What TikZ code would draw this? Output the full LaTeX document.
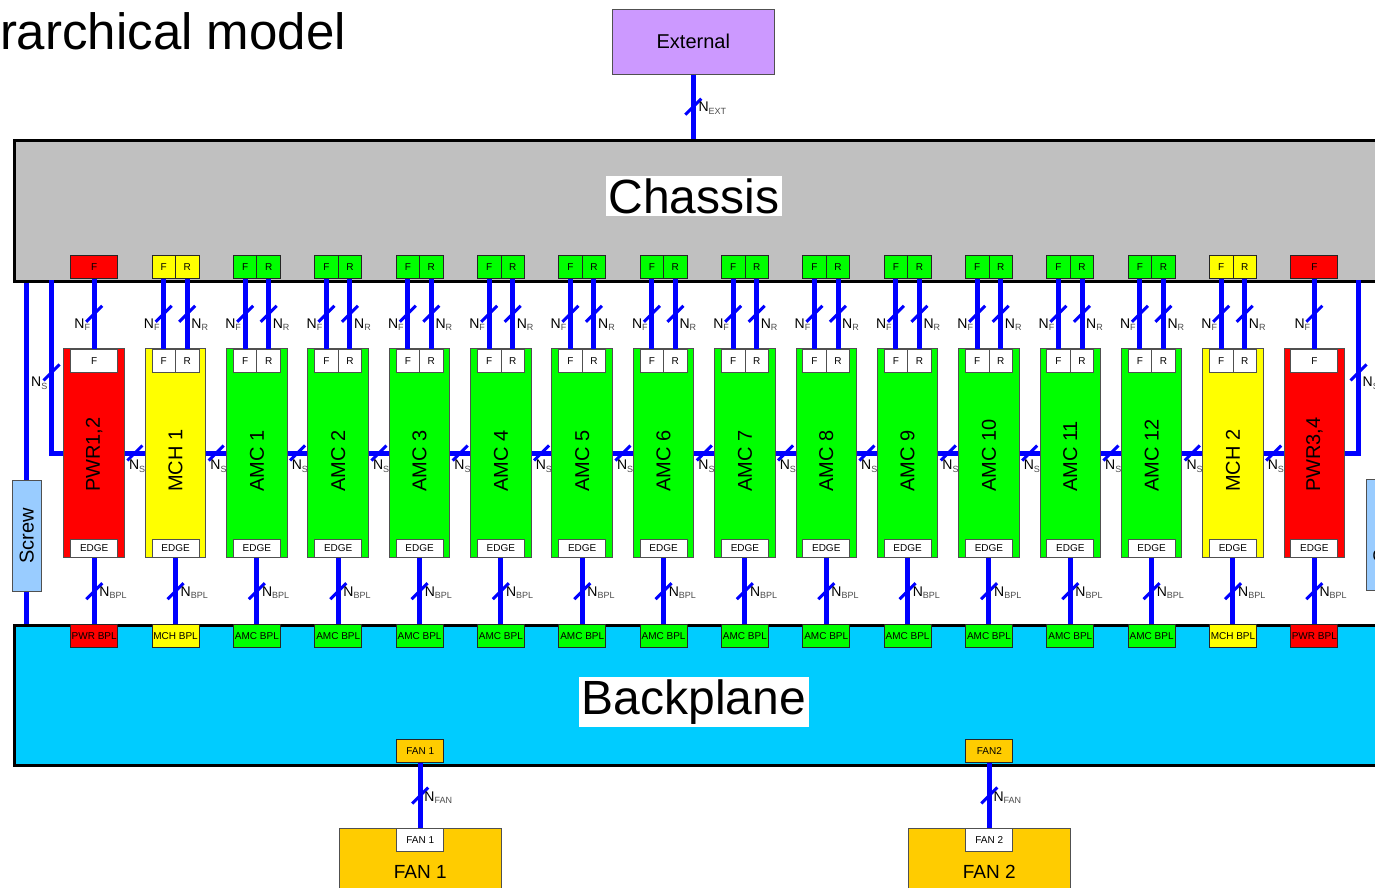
\documentclass[tikz,border=0pt]{standalone}
\usepackage{fontspec}
\setmainfont{Liberation Sans}
\definecolor{busblue}{HTML}{0000FF}
\definecolor{chassisgray}{HTML}{C0C0C0}
\definecolor{bplcyan}{HTML}{00CCFF}
\definecolor{extpurple}{HTML}{CC99FF}
\definecolor{screwblue}{HTML}{99CCFF}
\definecolor{fanorange}{HTML}{FFCC00}
\definecolor{pwrred}{HTML}{FF0000}
\definecolor{mchyellow}{HTML}{FFFF00}
\definecolor{amcgreen}{HTML}{00FF00}
\definecolor{subgray}{HTML}{4A4A4A}
\definecolor{framegray}{HTML}{505050}
\newcommand{\px}[1]{\fontsize{#1}{#1}\selectfont}
\newcommand{\nsub}[1]{N\raisebox{-2.5pt}{\px{9}\color{subgray}#1}}
\tikzset{
  bus/.style={draw=busblue, line width=5pt},
  buscut/.style={draw=busblue, line width=3pt},
  module/.style={draw=framegray, line width=1pt, minimum width=60.5pt,
                 minimum height=208.5pt, inner sep=0pt},
  modlabel/.style={rotate=90, anchor=west, inner sep=0pt, font=\px{20}},
  tile/.style={draw=black!85, line width=0.8pt, minimum width=23.5pt,
               minimum height=23pt, inner sep=0pt, font=\px{10}},
  widetile/.style={tile, minimum width=47pt},
  edgebox/.style={widetile, fill=white, draw=framegray, minimum height=18.5pt},
  nlab/.style={inner sep=0pt, font=\px{14}},
  bigtitle/.style={fill=white, inner sep=2.5pt, font=\px{48}},
  screw/.style={draw=framegray, line width=1pt, fill=screwblue, minimum width=29pt,
                minimum height=111pt, inner sep=0pt, font=\px{20}},
  bigbox/.style={draw=framegray, line width=1pt, minimum width=162pt, inner sep=0pt},
}

\begin{document}
\begin{tikzpicture}[x=1pt, y=-1pt]
  \useasboundingbox (0,0) rectangle (1375,888);
  \clip (0,0) rectangle (1375,888);

  \node[anchor=base east, inner sep=0pt, font=\px{51}] (title) at (346,50) {rarchical model};

  % chassis and backplane
  \node[draw, line width=3pt, fill=chassisgray, minimum width=1400pt, minimum height=141pt,
        anchor=north west, inner sep=0pt] (chassis) at (13,138.5) {};
  \node[bigtitle] (chtext) at (694,196) {Chassis};
  \node[draw, line width=3pt, fill=bplcyan, minimum width=1400pt, minimum height=139.5pt,
        anchor=north west, inner sep=0pt] (bp) at (13,624) {};
  \node[bigtitle] (bptext) at (694,702) {Backplane};

  % external
  \node[bigbox, fill=extpurple, minimum height=65pt, font=\px{20}] (ext) at (693.3,41.8) {External};
  \draw[bus] (ext.south) -- coordinate[midway] (tx) (ext.south |- chassis.north);
  \draw[buscut] (tx) ++(-8,8) -- ++(16,-16);
  \node[nlab, anchor=west] at ([shift={(5,1.5)}]tx) {\nsub{EXT}};

  % modules, edge connectors and backplane slots
  \foreach \i/\fc/\name/\kind in {0/pwrred/{PWR1,2}/PWR, 1/mchyellow/MCH 1/MCH,
      2/amcgreen/AMC 1/AMC, 3/amcgreen/AMC 2/AMC, 4/amcgreen/AMC 3/AMC,
      5/amcgreen/AMC 4/AMC, 6/amcgreen/AMC 5/AMC, 7/amcgreen/AMC 6/AMC,
      8/amcgreen/AMC 7/AMC, 9/amcgreen/AMC 8/AMC, 10/amcgreen/AMC 9/AMC,
      11/amcgreen/AMC 10/AMC, 12/amcgreen/AMC 11/AMC, 13/amcgreen/AMC 12/AMC,
      14/mchyellow/MCH 2/MCH, 15/pwrred/{PWR3,4}/PWR}{
    \pgfmathsetmacro{\cx}{94.2+81.34*\i}
    \node[module, fill=\fc] (m\i) at (\cx,453) {};
    \node[modlabel] (ml\i) at (\cx,492) {\name};
    \node[edgebox] (e\i) at (\cx,548.3) {EDGE};
    \node[widetile, fill=\fc] (b\i) at (\cx,636.3) {\kind\ BPL};
    \draw[bus] (e\i.south) -- coordinate[midway] (tb\i) (b\i.north);
    \draw[buscut] (tb\i) ++(-8,8) -- ++(16,-16);
    \node[nlab, anchor=west] at ([shift={(5,1.5)}]tb\i) {\nsub{BPL}};
  }

  % power modules: front connector only
  \foreach \i in {0,15}{
    \pgfmathsetmacro{\cx}{94.2+81.34*\i}
    \node[widetile, fill=pwrred] (cf\i) at (\cx,266.8) {F};
    \node[widetile, fill=white, draw=framegray] (mf\i) at (\cx,360.8) {F};
    \draw[bus] (cf\i.south) -- coordinate[midway] (tf\i) (mf\i.north);
    \draw[buscut] (tf\i) ++(-8,8) -- ++(16,-16);
    \node[nlab, anchor=east] at ([shift={(-4,11)}]tf\i) {\nsub{F}};
  }

  % MCH and AMC: front and rear connectors
  \foreach \i/\fc in {1/mchyellow, 2/amcgreen, 3/amcgreen, 4/amcgreen, 5/amcgreen,
      6/amcgreen, 7/amcgreen, 8/amcgreen, 9/amcgreen, 10/amcgreen, 11/amcgreen,
      12/amcgreen, 13/amcgreen, 14/mchyellow}{
    \pgfmathsetmacro{\cx}{94.2+81.34*\i}
    \node[tile, fill=\fc] (cf\i) at (\cx-11.75,266.8) {F};
    \node[tile, fill=\fc] (cr\i) at (\cx+11.75,266.8) {R};
    \node[tile, fill=white, draw=framegray] (mf\i) at (\cx-11.75,360.8) {F};
    \node[tile, fill=white, draw=framegray] (mr\i) at (\cx+11.75,360.8) {R};
    \draw[bus] (cf\i.south) -- coordinate[midway] (tf\i) (mf\i.north);
    \draw[bus] (cr\i.south) -- coordinate[midway] (tr\i) (mr\i.north);
    \draw[buscut] (tf\i) ++(-8,8) -- ++(16,-16);
    \draw[buscut] (tr\i) ++(-8,8) -- ++(16,-16);
    \node[nlab, anchor=east] at ([shift={(-4,11)}]tf\i) {\nsub{F}};
    \node[nlab, anchor=west] at ([shift={(4,11)}]tr\i) {\nsub{R}};
  }

  % shelf bus between neighbours
  \foreach \i [evaluate=\i as \j using int(\i+1)] in {0,...,14}{
    \draw[bus] (m\i.east) -- coordinate[midway] (ts\i) (m\j.west);
    \draw[buscut] (ts\i) ++(-7.5,7.5) -- ++(15,-15);
    \node[nlab, anchor=north west] at ([shift={(-6,7)}]ts\i) {\nsub{S}};
  }
  \coordinate (nsl) at (51.5,280);
  \coordinate (nsr) at (1358.5,280);
  \draw[bus] (nsl) |- coordinate[pos=0.267] (tsl) (m0.west);
  \draw[bus] (nsr) |- coordinate[pos=0.267] (tsr) (m15.east);
  \draw[buscut] (tsl) ++(-8,8) -- ++(16,-16);
  \draw[buscut] (tsr) ++(-8,8) -- ++(16,-16);
  \node[nlab, anchor=east] at ([shift={(-4,11)}]tsl) {\nsub{S}};
  \node[nlab, anchor=west] at ([shift={(4,11)}]tsr) {\nsub{S}};

  % screws
  \node[screw] (scl) at (26.8,536) {\rotatebox{90}{Screw}};
  \node[screw] (scr) at (1380.5,535) {\rotatebox{90}{Screw}};
  \draw[bus] (scl.north |- chassis.south) -- (scl.north);
  \draw[bus] (scl.south) -- (scl.south |- bp.north);
  \draw[bus] (scr.north |- chassis.south) -- (scr.north);
  \draw[bus] (scr.south) -- (scr.south |- bp.north);

  % fans
  \foreach \k/\cx/\tag in {1/420.2/FAN 1, 2/989.3/FAN2}{
    \node[widetile, fill=fanorange] (bf\k) at (\cx,750.8) {\tag};
    \node[bigbox, fill=fanorange, minimum height=90pt, anchor=north] (fan\k) at (\cx,828.3) {};
    \node[widetile, fill=white, draw=framegray, anchor=north] (ff\k) at (\cx,828.3) {FAN \k};
    \node[font=\px{19}, inner sep=0pt] (fl\k) at (\cx,871.5) {FAN \k};
    \draw[bus] (bf\k.south) -- coordinate[midway] (tn\k) (ff\k.north);
    \draw[buscut] (tn\k) ++(-8,8) -- ++(16,-16);
    \node[nlab, anchor=west] at ([shift={(4,2)}]tn\k) {\nsub{FAN}};
  }
\end{tikzpicture}
\end{document}
